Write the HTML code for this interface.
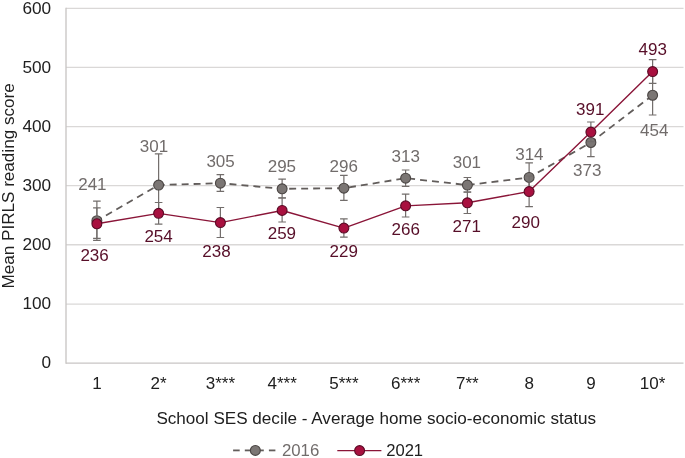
<!DOCTYPE html>
<html lang="en"><head><meta charset="utf-8"><title>Mean PIRLS reading score by school SES decile</title>
<style>html,body{margin:0;padding:0;background:#fff}svg{display:block}</style></head>
<body>
<svg width="685" height="458" viewBox="0 0 685 458" font-family="'Liberation Sans', sans-serif" font-size="17">
<rect width="685" height="458" fill="#fff"/>
<line x1="66.0" x2="683.5" y1="304.05" y2="304.05" stroke="#dad8d7" stroke-width="1.3"/>
<line x1="66.0" x2="683.5" y1="244.75" y2="244.75" stroke="#dad8d7" stroke-width="1.3"/>
<line x1="66.0" x2="683.5" y1="185.65" y2="185.65" stroke="#dad8d7" stroke-width="1.3"/>
<line x1="66.0" x2="683.5" y1="126.55" y2="126.55" stroke="#dad8d7" stroke-width="1.3"/>
<line x1="66.0" x2="683.5" y1="67.45" y2="67.45" stroke="#dad8d7" stroke-width="1.3"/>
<line x1="66.0" x2="683.5" y1="8.35" y2="8.35" stroke="#dad8d7" stroke-width="1.3"/>
<line x1="66.0" x2="683.5" y1="363.05" y2="363.05" stroke="#c8c5c4" stroke-width="1.25"/>
<line x1="66.0" x2="66.0" y1="7.70" y2="363.67" stroke="#c8c5c4" stroke-width="1.35"/>
<text x="51.1" y="368.45" text-anchor="end" font-size="17.2" fill="#202020">0</text>
<text x="51.1" y="309.35" text-anchor="end" font-size="17.2" fill="#202020">100</text>
<text x="51.1" y="250.25" text-anchor="end" font-size="17.2" fill="#202020">200</text>
<text x="51.1" y="191.15" text-anchor="end" font-size="17.2" fill="#202020">300</text>
<text x="51.1" y="132.05" text-anchor="end" font-size="17.2" fill="#202020">400</text>
<text x="51.1" y="72.95" text-anchor="end" font-size="17.2" fill="#202020">500</text>
<text x="51.1" y="13.85" text-anchor="end" font-size="17.2" fill="#202020">600</text>
<text x="96.88" y="389" text-anchor="middle" fill="#202020">1</text>
<text x="158.62" y="389" text-anchor="middle" fill="#202020">2*</text>
<text x="220.38" y="389" text-anchor="middle" fill="#202020">3***</text>
<text x="282.12" y="389" text-anchor="middle" fill="#202020">4***</text>
<text x="343.88" y="389" text-anchor="middle" fill="#202020">5***</text>
<text x="405.62" y="389" text-anchor="middle" fill="#202020">6***</text>
<text x="467.38" y="389" text-anchor="middle" fill="#202020">7**</text>
<text x="529.12" y="389" text-anchor="middle" fill="#202020">8</text>
<text x="590.88" y="389" text-anchor="middle" fill="#202020">9</text>
<text x="652.62" y="389" text-anchor="middle" fill="#202020">10*</text>
<text x="376.2" y="424" text-anchor="middle" font-size="17.1" fill="#202020">School SES decile - Average home socio-economic status</text>
<text transform="translate(13.6 185.9) rotate(-90)" text-anchor="middle" font-size="17.1" fill="#202020">Mean PIRLS reading score</text>
<path d="M96.88 201.20V240.40M93.08 201.20h7.6M93.08 240.40h7.6" stroke="#726d6b" stroke-width="1.2" fill="none"/>
<path d="M158.62 153.80V216.30M154.82 153.80h7.6M154.82 216.30h7.6" stroke="#726d6b" stroke-width="1.2" fill="none"/>
<path d="M220.38 174.70V191.30M216.57 174.70h7.6M216.57 191.30h7.6" stroke="#726d6b" stroke-width="1.2" fill="none"/>
<path d="M282.12 179.20V198.00M278.32 179.20h7.6M278.32 198.00h7.6" stroke="#726d6b" stroke-width="1.2" fill="none"/>
<path d="M343.88 175.30V200.30M340.07 175.30h7.6M340.07 200.30h7.6" stroke="#726d6b" stroke-width="1.2" fill="none"/>
<path d="M405.62 170.00V186.30M401.82 170.00h7.6M401.82 186.30h7.6" stroke="#726d6b" stroke-width="1.2" fill="none"/>
<path d="M467.38 177.50V192.20M463.57 177.50h7.6M463.57 192.20h7.6" stroke="#726d6b" stroke-width="1.2" fill="none"/>
<path d="M529.12 162.80V191.70M525.33 162.80h7.6M525.33 191.70h7.6" stroke="#726d6b" stroke-width="1.2" fill="none"/>
<path d="M590.88 128.30V156.70M587.08 128.30h7.6M587.08 156.70h7.6" stroke="#726d6b" stroke-width="1.2" fill="none"/>
<path d="M652.62 74.20V115.00M648.83 74.20h7.6M648.83 115.00h7.6" stroke="#726d6b" stroke-width="1.2" fill="none"/>
<polyline points="96.88,220.72 158.62,185.06 220.38,183.19 282.12,188.80 343.88,188.21 405.62,178.17 467.38,185.06 529.12,177.48 590.88,142.51 652.62,95.24" fill="none" stroke="#625d5b" stroke-width="1.8" stroke-dasharray="6.95 5.03" stroke-dashoffset="1.5" stroke-linejoin="round"/>
<circle cx="96.88" cy="220.72" r="4.95" fill="#7b7674" stroke="#4b4644" stroke-width="1.1"/>
<circle cx="158.62" cy="185.06" r="4.95" fill="#7b7674" stroke="#4b4644" stroke-width="1.1"/>
<circle cx="220.38" cy="183.19" r="4.95" fill="#7b7674" stroke="#4b4644" stroke-width="1.1"/>
<circle cx="282.12" cy="188.80" r="4.95" fill="#7b7674" stroke="#4b4644" stroke-width="1.1"/>
<circle cx="343.88" cy="188.21" r="4.95" fill="#7b7674" stroke="#4b4644" stroke-width="1.1"/>
<circle cx="405.62" cy="178.17" r="4.95" fill="#7b7674" stroke="#4b4644" stroke-width="1.1"/>
<circle cx="467.38" cy="185.06" r="4.95" fill="#7b7674" stroke="#4b4644" stroke-width="1.1"/>
<circle cx="529.12" cy="177.48" r="4.95" fill="#7b7674" stroke="#4b4644" stroke-width="1.1"/>
<circle cx="590.88" cy="142.51" r="4.95" fill="#7b7674" stroke="#4b4644" stroke-width="1.1"/>
<circle cx="652.62" cy="95.24" r="4.95" fill="#7b7674" stroke="#4b4644" stroke-width="1.1"/>
<path d="M96.88 207.80V238.40M93.08 207.80h7.6M93.08 238.40h7.6" stroke="#726d6b" stroke-width="1.2" fill="none"/>
<path d="M158.62 202.50V224.20M154.82 202.50h7.6M154.82 224.20h7.6" stroke="#726d6b" stroke-width="1.2" fill="none"/>
<path d="M220.38 207.50V237.50M216.57 207.50h7.6M216.57 237.50h7.6" stroke="#726d6b" stroke-width="1.2" fill="none"/>
<path d="M282.12 197.80V222.00M278.32 197.80h7.6M278.32 222.00h7.6" stroke="#726d6b" stroke-width="1.2" fill="none"/>
<path d="M343.88 218.80V237.20M340.07 218.80h7.6M340.07 237.20h7.6" stroke="#726d6b" stroke-width="1.2" fill="none"/>
<path d="M405.62 194.20V217.00M401.82 194.20h7.6M401.82 217.00h7.6" stroke="#726d6b" stroke-width="1.2" fill="none"/>
<path d="M467.38 192.00V213.50M463.57 192.00h7.6M463.57 213.50h7.6" stroke="#726d6b" stroke-width="1.2" fill="none"/>
<path d="M529.12 176.00V206.70M525.33 176.00h7.6M525.33 206.70h7.6" stroke="#726d6b" stroke-width="1.2" fill="none"/>
<path d="M590.88 122.00V141.60M587.08 122.00h7.6M587.08 141.60h7.6" stroke="#726d6b" stroke-width="1.2" fill="none"/>
<path d="M652.62 59.70V83.30M648.83 59.70h7.6M648.83 83.30h7.6" stroke="#726d6b" stroke-width="1.2" fill="none"/>
<polyline points="96.88,223.77 158.62,213.34 220.38,222.59 282.12,210.48 343.88,228.11 405.62,205.84 467.38,202.79 529.12,191.56 590.88,132.07 652.62,71.59" fill="none" stroke="#8a1538" stroke-width="1.4" stroke-linejoin="round"/>
<circle cx="96.88" cy="223.77" r="4.95" fill="#a8103f" stroke="#5a0a25" stroke-width="1.1"/>
<circle cx="158.62" cy="213.34" r="4.95" fill="#a8103f" stroke="#5a0a25" stroke-width="1.1"/>
<circle cx="220.38" cy="222.59" r="4.95" fill="#a8103f" stroke="#5a0a25" stroke-width="1.1"/>
<circle cx="282.12" cy="210.48" r="4.95" fill="#a8103f" stroke="#5a0a25" stroke-width="1.1"/>
<circle cx="343.88" cy="228.11" r="4.95" fill="#a8103f" stroke="#5a0a25" stroke-width="1.1"/>
<circle cx="405.62" cy="205.84" r="4.95" fill="#a8103f" stroke="#5a0a25" stroke-width="1.1"/>
<circle cx="467.38" cy="202.79" r="4.95" fill="#a8103f" stroke="#5a0a25" stroke-width="1.1"/>
<circle cx="529.12" cy="191.56" r="4.95" fill="#a8103f" stroke="#5a0a25" stroke-width="1.1"/>
<circle cx="590.88" cy="132.07" r="4.95" fill="#a8103f" stroke="#5a0a25" stroke-width="1.1"/>
<circle cx="652.62" cy="71.59" r="4.95" fill="#a8103f" stroke="#5a0a25" stroke-width="1.1"/>
<text x="92.4" y="189.5" text-anchor="middle" font-size="17" fill="#716c6b">241</text>
<text x="154" y="152.0" text-anchor="middle" font-size="17" fill="#716c6b">301</text>
<text x="220.6" y="166.5" text-anchor="middle" font-size="17" fill="#716c6b">305</text>
<text x="281.9" y="172.0" text-anchor="middle" font-size="17" fill="#716c6b">295</text>
<text x="343.7" y="171.6" text-anchor="middle" font-size="17" fill="#716c6b">296</text>
<text x="405.8" y="161.6" text-anchor="middle" font-size="17" fill="#716c6b">313</text>
<text x="466.9" y="168.3" text-anchor="middle" font-size="17" fill="#716c6b">301</text>
<text x="529.4" y="160.3" text-anchor="middle" font-size="17" fill="#716c6b">314</text>
<text x="587.2" y="176.1" text-anchor="middle" font-size="17" fill="#716c6b">373</text>
<text x="654.2" y="135.8" text-anchor="middle" font-size="17" fill="#716c6b">454</text>
<text x="94.6" y="261.1" text-anchor="middle" font-size="17" fill="#570e28">236</text>
<text x="158.6" y="241.6" text-anchor="middle" font-size="17" fill="#570e28">254</text>
<text x="216.5" y="256.6" text-anchor="middle" font-size="17" fill="#570e28">238</text>
<text x="281.9" y="238.6" text-anchor="middle" font-size="17" fill="#570e28">259</text>
<text x="343.7" y="256.6" text-anchor="middle" font-size="17" fill="#570e28">229</text>
<text x="405.8" y="234.5" text-anchor="middle" font-size="17" fill="#570e28">266</text>
<text x="466.7" y="231.5" text-anchor="middle" font-size="17" fill="#570e28">271</text>
<text x="525.8" y="227.8" text-anchor="middle" font-size="17" fill="#570e28">290</text>
<text x="590.3" y="115.0" text-anchor="middle" font-size="17" fill="#570e28">391</text>
<text x="652.7" y="55.0" text-anchor="middle" font-size="17" fill="#570e28">493</text>
<line x1="233.1" x2="239.7" y1="450.4" y2="450.4" stroke="#625d5b" stroke-width="1.8"/>
<line x1="244.8" x2="263.8" y1="450.4" y2="450.4" stroke="#625d5b" stroke-width="1.8"/>
<line x1="268.9" x2="275.4" y1="450.4" y2="450.4" stroke="#625d5b" stroke-width="1.8"/>
<circle cx="255.35" cy="450.4" r="4.95" fill="#7b7674" stroke="#4b4644" stroke-width="1.1"/>
<text x="281.9" y="455.8" font-size="16.8" fill="#716c6b">2016</text>
<line x1="337.3" x2="381.4" y1="450.6" y2="450.6" stroke="#8a1538" stroke-width="1.4"/>
<circle cx="359.6" cy="450.6" r="4.95" fill="#a8103f" stroke="#5a0a25" stroke-width="1.1"/>
<text x="386.2" y="455.9" font-size="16.6" fill="#202020">2021</text>
</svg>
</body></html>
